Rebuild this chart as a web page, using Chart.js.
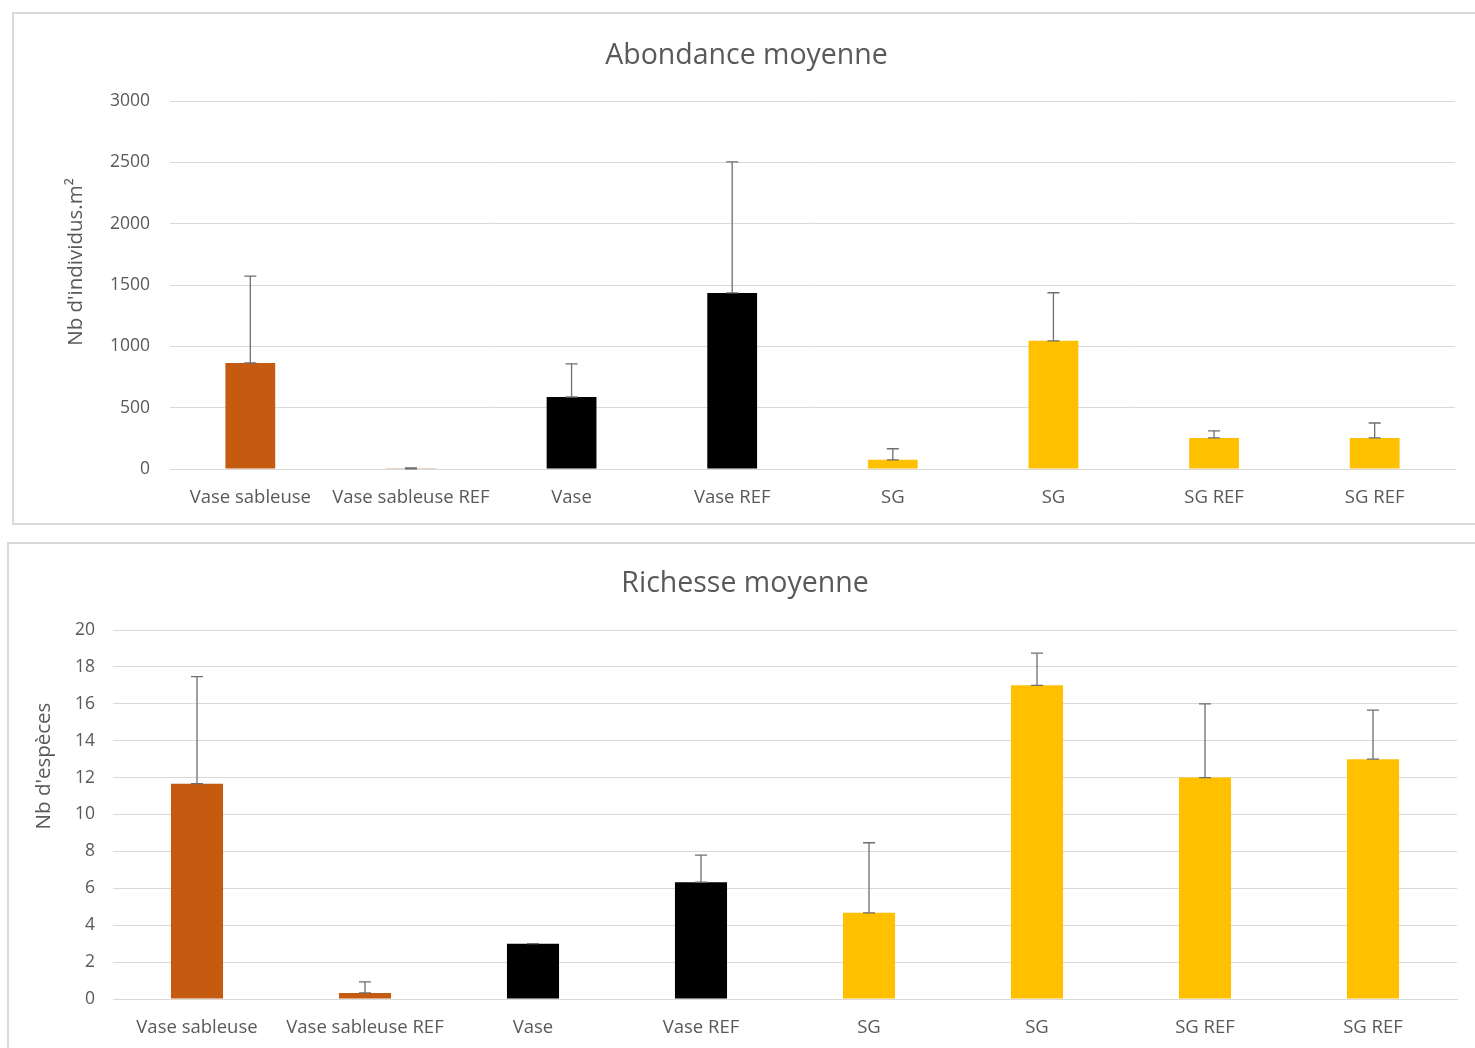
<!DOCTYPE html>
<html>
<head>
<meta charset="utf-8">
<script src="https://cdn.jsdelivr.net/npm/chart.js@4.4.1/dist/chart.umd.min.js"></script>
<style>
  body { margin: 0; background: #fff; overflow: hidden; }
  .panel { position: absolute; border: 2px solid #d9d9d9; box-sizing: border-box; }
  .wrap { position: absolute; left: 0; width: 1475px; }
</style>
</head>
<body>
<div class="panel" style="left:12px;top:12px;width:1480px;height:513px;"></div>
<div class="panel" style="left:7px;top:542px;width:1480px;height:520px;"></div>
<div class="wrap" style="top:0;height:530px;"><canvas id="abondance"></canvas></div>
<div class="wrap" style="top:530px;height:518px;"><canvas id="richesse"></canvas></div>
<script>
const categories = ["Vase sableuse", "Vase sableuse REF", "Vase", "Vase REF", "SG", "SG", "SG REF", "SG REF"];

// moyenne + ecart (barre d'erreur vers le haut seulement)
const abondance = [865, 2, 587, 1435, 75, 1045, 253, 253];
const abondanceErr = [708, 6, 270, 1068, 90, 392, 57, 122];

const richesse = [11.67, 0.33, 3, 6.33, 4.67, 17, 12, 13];
const richesseErr = [5.8, 0.6, 0, 1.47, 3.8, 1.75, 4, 2.66];

const barColors = ["#c55a11", "#c55a11", "#000000", "#000000", "#ffc000", "#ffc000", "#ffc000", "#ffc000"];

const textColor = "#595959";
const gridColor = "#d9d9d9";
const fontFamily = "'Open Sans', sans-serif";

// petites barres d'erreur (plus seulement)
const errorBars = {
  id: "errorBars",
  afterDatasetsDraw(chart, args, opts) {
    const { ctx } = chart;
    const meta = chart.getDatasetMeta(0);
    const yScale = chart.scales.y;
    const values = chart.data.datasets[0].data;
    ctx.save();
    ctx.strokeStyle = "#6f6f6f";
    ctx.lineWidth = 1.3;
    meta.data.forEach((bar, i) => {
      const yBase = yScale.getPixelForValue(values[i]);
      const yTop = yScale.getPixelForValue(values[i] + opts.errors[i]);
      ctx.beginPath();
      ctx.moveTo(bar.x, yBase);
      ctx.lineTo(bar.x, yTop);
      ctx.moveTo(bar.x - 6, yTop);
      ctx.lineTo(bar.x + 6, yTop);
      ctx.moveTo(bar.x - 6, yBase);
      ctx.lineTo(bar.x + 6, yBase);
      ctx.stroke();
    });
    ctx.restore();
  },
};

// titre de l'axe Y, un peu au-dessus du centre comme dans Excel
const yAxisTitle = {
  id: "yAxisTitle",
  afterDraw(chart, args, opts) {
    const { ctx } = chart;
    ctx.save();
    ctx.fillStyle = textColor;
    ctx.font = "20.5px " + fontFamily;
    ctx.textAlign = "center";
    ctx.textBaseline = "middle";
    ctx.translate(opts.x, opts.y);
    ctx.rotate(-Math.PI / 2);
    ctx.fillText(opts.text, 0, 0);
    ctx.restore();
  },
};

const makeConfig = (o) => ({
  type: "bar",
  data: {
    labels: categories,
    datasets: [
      {
        data: o.values,
        backgroundColor: barColors,
        borderWidth: 0,
        categoryPercentage: 1,
        barPercentage: 0.31,
      },
    ],
  },
  options: {
    responsive: true,
    maintainAspectRatio: false,
    animation: false,
    layout: { padding: { left: o.padLeft, right: o.padRight, top: 0, bottom: 0 } },
    plugins: {
      legend: { display: false },
      tooltip: { enabled: false },
      title: {
        display: true,
        text: o.title,
        color: textColor,
        font: { family: fontFamily, size: 28.5, weight: "normal" },
        padding: { top: o.titleTop, bottom: o.titleBottom },
      },
      errorBars: { errors: o.errors },
      yAxisTitle: { text: o.yTitle, x: o.yTitleX, y: o.yTitleY },
    },
    scales: {
      x: {
        grid: { display: false },
        border: { display: true, color: gridColor, width: 1 },
        ticks: {
          color: textColor,
          font: { family: fontFamily, size: 18.5 },
          padding: 10,
          maxRotation: 0,
          autoSkip: false,
        },
        afterFit(scale) {
          scale.height = o.xHeight;
        },
      },
      y: {
        min: 0,
        max: o.max,
        grid: { color: gridColor, lineWidth: 1, drawTicks: false },
        border: { display: false },
        ticks: {
          stepSize: o.step,
          color: textColor,
          font: { family: fontFamily, size: 17.5 },
          padding: o.tickPad,
          callback: (v) => String(v),
        },
        afterFit(scale) {
          scale.width = o.yWidth;
        },
      },
    },
  },
  plugins: [errorBars, yAxisTitle],
});

const drawChart = (ctx, config) => {
  return new Chart(ctx, config);
};

drawChart(
  document.getElementById("abondance"),
  makeConfig({
    title: "Abondance moyenne",
    yTitle: "Nb d'individus.m²",
    yTitleX: 76,
    yTitleY: 262,
    values: abondance,
    errors: abondanceErr,
    max: 3000,
    step: 500,
    padLeft: 38,
    padRight: 20,
    yWidth: 132,
    tickPad: 20,
    xHeight: 61,
    titleTop: 39,
    titleBottom: 27.8,
  })
);

drawChart(
  document.getElementById("richesse"),
  makeConfig({
    title: "Richesse moyenne",
    yTitle: "Nb d'espèces",
    yTitleX: 44,
    yTitleY: 236,
    values: richesse,
    errors: richesseErr,
    max: 20,
    step: 2,
    padLeft: 33,
    padRight: 18,
    yWidth: 80,
    tickPad: 18,
    xHeight: 49,
    titleTop: 37,
    titleBottom: 28.8,
  })
);
</script>
</body>
</html>
